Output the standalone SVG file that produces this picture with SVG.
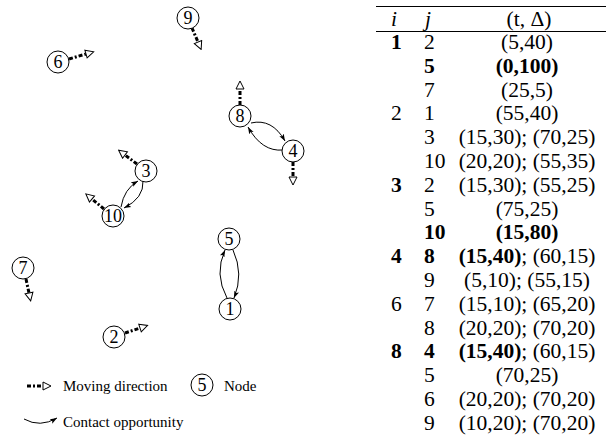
<svg xmlns="http://www.w3.org/2000/svg" width="613" height="435" viewBox="0 0 613 435">
<style>
text{font-family:'Liberation Serif','DejaVu Serif','Noto Serif',serif}
.n circle{fill:#fff;stroke:#000;stroke-width:1}
.n text{font-size:18px;text-anchor:middle}
.mv{stroke:#000;stroke-width:3;stroke-dasharray:4 2 2 2;fill:none;marker-end:url(#tri)}
.ct{stroke:#000;stroke-width:1;fill:none;marker-end:url(#barb)}
.lg{font-size:15px}
.tb text{font-size:21.5px}
.c{text-anchor:middle}
.b{font-weight:bold}
.rule{stroke:#000;stroke-width:1}
</style>
<defs>
<marker id="tri" markerUnits="userSpaceOnUse" viewBox="-1 -1 10 10" refX="0" refY="4" markerWidth="10" markerHeight="10" orient="auto">
<path d="M0,0 L8,4 L0,8 Z" fill="#fff" stroke="#000" stroke-width="1"/>
</marker>
<marker id="barb" markerUnits="userSpaceOnUse" viewBox="0 0 8 6" refX="7" refY="3" markerWidth="8" markerHeight="6" orient="auto">
<path d="M0,0.5 L7,3 L0,5.5 L1.5,3 Z" fill="#000"/>
</marker>
</defs>

<g id="connectors">
<path class="mv" d="M192,28 L198,42"/>
<path class="mv" d="M69,59 L86,54"/>
<path class="mv" d="M240,105 L240,89"/>
<path class="mv" d="M293,162 L293,177"/>
<path class="mv" d="M137,164 L125,155"/>
<path class="mv" d="M104,209 L92,199"/>
<path class="mv" d="M26,279 L29,293"/>
<path class="mv" d="M125,333 L140,328"/>
<path class="ct" d="M251,123 Q272,118 285,141"/>
<path class="ct" d="M283,150 Q262,152 248,127"/>
<path class="ct" d="M121,207 Q124,189 138,181"/>
<path class="ct" d="M143,181 Q144,198 124,208"/>
<path class="ct" d="M227,298 Q214,274 225,250"/>
<path class="ct" d="M233,250 Q244,274 234,298"/>
</g>

<g id="node9" class="n"><circle cx="188" cy="18" r="11"/><text x="188" y="24">9</text></g>
<g id="node6" class="n"><circle cx="58" cy="62" r="11"/><text x="58" y="68">6</text></g>
<g id="node8" class="n"><circle cx="240" cy="116" r="11"/><text x="240" y="122">8</text></g>
<g id="node4" class="n"><circle cx="293" cy="151" r="11"/><text x="293" y="157">4</text></g>
<g id="node3" class="n"><circle cx="146" cy="171" r="11"/><text x="146" y="177">3</text></g>
<g id="node10" class="n"><circle cx="113" cy="216" r="11"/><text x="113" y="222">10</text></g>
<g id="node5" class="n"><circle cx="229" cy="239" r="11"/><text x="229" y="245">5</text></g>
<g id="node1" class="n"><circle cx="230" cy="309" r="11"/><text x="230" y="315">1</text></g>
<g id="node7" class="n"><circle cx="23" cy="268" r="11"/><text x="23" y="274">7</text></g>
<g id="node2" class="n"><circle cx="114" cy="337" r="11"/><text x="114" y="343">2</text></g>

<g id="legend">
<path class="mv" d="M27,386 L43,386"/>
<text class="lg" x="63" y="391">Moving direction</text>
<g class="n"><circle cx="202" cy="385" r="11"/><text x="202" y="391">5</text></g>
<text class="lg" x="224" y="391">Node</text>
<path class="ct" d="M24,419 Q40,428 57,418"/>
<text class="lg" x="63" y="427">Contact opportunity</text>
</g>

<g id="table" class="tb">
<line class="rule" x1="376" y1="6.5" x2="606" y2="6.5"/>
<line class="rule" x1="376" y1="31.5" x2="606" y2="31.5" stroke-width="1.3"/>
<text x="391" y="26" font-style="italic">i</text>
<text x="425" y="26" font-style="italic">j</text>
<text class="c" x="529" y="26">(t,  Δ)</text>

<text x="391" y="49" class="b">1</text><text x="424" y="49">2</text><text class="c" x="527" y="49">(5,40)</text>
<text x="424" y="72.8" class="b">5</text><text class="c b" x="527" y="72.8">(0,100)</text>
<text x="424" y="96.6">7</text><text class="c" x="527" y="96.6">(25,5)</text>
<text x="391" y="120.4">2</text><text x="424" y="120.4">1</text><text class="c" x="527" y="120.4">(55,40)</text>
<text x="424" y="144.2">3</text><text class="c" x="527" y="144.2">(15,30); (70,25)</text>
<text x="424" y="168">10</text><text class="c" x="527" y="168">(20,20); (55,35)</text>
<text x="391" y="191.8" class="b">3</text><text x="424" y="191.8">2</text><text class="c" x="527" y="191.8">(15,30); (55,25)</text>
<text x="424" y="215.6">5</text><text class="c" x="527" y="215.6">(75,25)</text>
<text x="424" y="239.4" class="b">10</text><text class="c b" x="527" y="239.4">(15,80)</text>
<text x="391" y="263.2" class="b">4</text><text x="424" y="263.2" class="b">8</text><text class="c" x="527" y="263.2"><tspan class="b">(15,40)</tspan>; (60,15)</text>
<text x="424" y="287">9</text><text class="c" x="527" y="287">(5,10); (55,15)</text>
<text x="391" y="310.8">6</text><text x="424" y="310.8">7</text><text class="c" x="527" y="310.8">(15,10); (65,20)</text>
<text x="424" y="334.6">8</text><text class="c" x="527" y="334.6">(20,20); (70,20)</text>
<text x="391" y="358.4" class="b">8</text><text x="424" y="358.4" class="b">4</text><text class="c" x="527" y="358.4"><tspan class="b">(15,40)</tspan>; (60,15)</text>
<text x="424" y="382.2">5</text><text class="c" x="527" y="382.2">(70,25)</text>
<text x="424" y="406">6</text><text class="c" x="527" y="406">(20,20); (70,20)</text>
<text x="424" y="429.8">9</text><text class="c" x="527" y="429.8">(10,20); (70,20)</text>
</g>
</svg>
